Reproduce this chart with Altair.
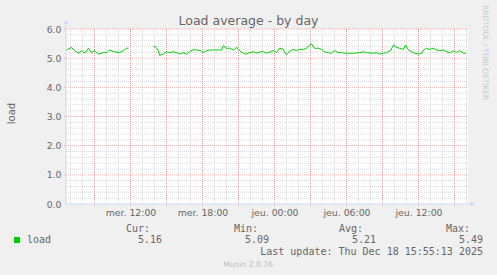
import altair as alt
import pandas as pd

# ---- data ----
times_a = ["2025-12-17 06:40", "2025-12-17 07:05", "2025-12-17 07:20", "2025-12-17 07:40",
           "2025-12-17 07:55", "2025-12-17 08:10", "2025-12-17 08:30", "2025-12-17 08:45",
           "2025-12-17 09:00", "2025-12-17 09:20", "2025-12-17 09:45", "2025-12-17 10:00",
           "2025-12-17 10:15", "2025-12-17 10:40", "2025-12-17 11:05", "2025-12-17 11:25",
           "2025-12-17 11:40", "2025-12-17 11:50"]
loads_a = [5.28, 5.37, 5.26, 5.17, 5.26, 5.17, 5.34, 5.19, 5.26, 5.14, 5.19, 5.19,
           5.28, 5.22, 5.19, 5.26, 5.34, 5.34]

times_b = ["2025-12-17 13:55", "2025-12-17 14:00", "2025-12-17 14:20", "2025-12-17 14:25",
           "2025-12-17 14:45", "2025-12-17 15:00", "2025-12-17 15:15", "2025-12-17 15:35",
           "2025-12-17 15:50", "2025-12-17 16:05", "2025-12-17 16:25", "2025-12-17 16:40",
           "2025-12-17 16:55", "2025-12-17 17:15", "2025-12-17 17:30", "2025-12-17 17:50",
           "2025-12-17 18:05", "2025-12-17 18:20", "2025-12-17 18:40", "2025-12-17 18:55",
           "2025-12-17 19:20", "2025-12-17 19:35", "2025-12-17 19:45", "2025-12-17 20:00",
           "2025-12-17 20:15", "2025-12-17 20:35", "2025-12-17 20:50", "2025-12-17 21:05",
           "2025-12-17 21:25", "2025-12-17 21:40", "2025-12-17 21:55", "2025-12-17 22:15",
           "2025-12-17 22:30", "2025-12-17 22:50", "2025-12-17 23:05", "2025-12-17 23:20",
           "2025-12-17 23:40", "2025-12-17 23:55",
           "2025-12-18 00:10", "2025-12-18 00:25", "2025-12-18 00:45", "2025-12-18 00:50",
           "2025-12-18 01:00", "2025-12-18 01:20", "2025-12-18 01:35", "2025-12-18 01:50",
           "2025-12-18 02:05", "2025-12-18 02:25", "2025-12-18 02:40", "2025-12-18 02:55",
           "2025-12-18 03:05", "2025-12-18 03:20", "2025-12-18 03:40", "2025-12-18 03:55",
           "2025-12-18 04:10", "2025-12-18 04:30", "2025-12-18 04:45", "2025-12-18 05:00",
           "2025-12-18 05:20", "2025-12-18 05:35", "2025-12-18 05:50", "2025-12-18 06:10",
           "2025-12-18 06:35", "2025-12-18 07:05", "2025-12-18 07:25", "2025-12-18 07:40",
           "2025-12-18 08:15", "2025-12-18 08:30", "2025-12-18 08:45", "2025-12-18 09:05",
           "2025-12-18 09:20", "2025-12-18 09:40", "2025-12-18 09:55", "2025-12-18 10:10",
           "2025-12-18 10:25", "2025-12-18 10:45", "2025-12-18 10:55", "2025-12-18 11:10",
           "2025-12-18 11:25", "2025-12-18 11:40", "2025-12-18 12:00", "2025-12-18 12:15",
           "2025-12-18 12:25", "2025-12-18 12:40", "2025-12-18 12:55", "2025-12-18 13:15",
           "2025-12-18 13:30", "2025-12-18 13:45", "2025-12-18 14:05", "2025-12-18 14:20",
           "2025-12-18 14:40", "2025-12-18 14:55", "2025-12-18 15:10", "2025-12-18 15:25",
           "2025-12-18 15:45", "2025-12-18 15:55"]
loads_b = [5.39, 5.42, 5.26, 5.10, 5.14, 5.22, 5.19, 5.22, 5.19, 5.14, 5.19, 5.14,
           5.22, 5.30, 5.28, 5.26, 5.19, 5.26, 5.28, 5.28, 5.28, 5.28, 5.43, 5.34,
           5.34, 5.28, 5.37, 5.26, 5.17, 5.14, 5.19, 5.22, 5.17, 5.22, 5.22, 5.17,
           5.22, 5.26,
           5.19, 5.34, 5.30, 5.19, 5.14, 5.26, 5.30, 5.26, 5.30, 5.30, 5.34, 5.45,
           5.49, 5.34, 5.34, 5.30, 5.22, 5.19, 5.17, 5.26, 5.19, 5.19, 5.17, 5.17,
           5.17, 5.19, 5.22, 5.19, 5.17, 5.19, 5.14, 5.17, 5.19, 5.26, 5.45, 5.37,
           5.34, 5.30, 5.45, 5.28, 5.22, 5.17, 5.14, 5.17, 5.28, 5.34, 5.30, 5.34,
           5.28, 5.26, 5.28, 5.22, 5.19, 5.26, 5.19, 5.26, 5.17, 5.16]

x_tick_times = [(17, 12), (17, 18), (18, 0), (18, 6), (18, 12)]  # (day of month, hour)
y_ticks = [0, 1, 2, 3, 4, 5, 6]
y_minor_steps = [1, 2, 3, 4]          # minor grid at 0.2 steps between labelled values
stat_labels = ["Cur:", "Min:", "Avg:", "Max:"]
stat_values = [5.16, 5.09, 5.21, 5.49]
series_name = "load"
title_text = "Load average - by day"
last_update = "Last update: Thu Dec 18 15:55:13 2025"
footer = "Munin 2.0.76"
watermark = "RRDTOOL / TOBI OETIKER"

# ---- tables ----
df = pd.concat([
    pd.DataFrame({"t": pd.to_datetime(times_a), "v": loads_a, "seg": "a"}),
    pd.DataFrame({"t": pd.to_datetime(times_b), "v": loads_b, "seg": "b"}),
])
hours_minor = pd.DataFrame({"t": pd.date_range("2025-12-17 07:00", "2025-12-18 16:00", freq="1h")})
hours_major = pd.DataFrame({"t": pd.date_range("2025-12-17 09:00", "2025-12-18 15:00", freq="3h")})
ymaj = pd.DataFrame({"v": y_ticks[1:]})
ymin = pd.DataFrame({"v": [b + s * 0.2 for b in y_ticks[:-1] for s in y_minor_steps]})

W, H = 402, 175
FONT = "DejaVu Sans"
MONO = "DejaVu Sans Mono"
FC = "#666666"
AXC = "#CFD6F8"

xscale = alt.Scale(domain=[alt.DateTime(year=2025, month=12, date=17, hours=6, minutes=37, seconds=30),
                           alt.DateTime(year=2025, month=12, date=18, hours=16, minutes=7, seconds=30)])
yscale = alt.Scale(domain=[0, 6], nice=False)

day_expr = "(day(datum.value) == 3 ? 'mer.' : 'jeu.') + ' ' + timeFormat(datum.value, '%H:%M')"
xaxis = alt.Axis(
    title=None, grid=False, domain=False, ticks=False, labelExpr=day_expr,
    values=[alt.DateTime(year=2025, month=12, date=d, hours=h) for d, h in x_tick_times],
    labelFont=FONT, labelFontSize=9.33,
    labelColor=FC, labelPadding=4, labelFlush=False, labelOverlap=False)
yaxis = alt.Axis(
    values=y_ticks, format=".1f", grid=False, domain=False, ticks=False,
    labelFont=FONT, labelFontSize=9.33, labelColor=FC, labelPadding=5,
    title=series_name, titleFont=FONT, titleFontSize=10, titleColor=FC,
    titleFontWeight="normal", titleAngle=270, titleX=-52, titleY=84,
    titleAlign="center", titleBaseline="alphabetic")

X = lambda: alt.X("t:T", scale=xscale, axis=xaxis)
Y = lambda: alt.Y("v:Q", scale=yscale, axis=yaxis)

one = pd.DataFrame({"k": [0]})

def txt(s, x, y, align="left", size=10, font=MONO, color=FC, angle=0):
    return alt.Chart(pd.DataFrame({"s": [s]})).mark_text(
        align=align, baseline="alphabetic", fontSize=size, font=font, color=color, angle=angle
    ).encode(x=alt.value(x), y=alt.value(y), text="s:N")

GRID = dict(color="#8f8f8f", opacity=0.35, strokeDash=[1, 1])
MGRID = dict(color="#de4f4f", opacity=0.42, strokeDash=[1, 1])

vminor = alt.Chart(hours_minor).mark_rule(**GRID).encode(x=X(), y=alt.value(0), y2=alt.value(H))
hminor = alt.Chart(ymin).mark_rule(**GRID).encode(y=Y(), x=alt.value(0), x2=alt.value(W))
vmajor = alt.Chart(hours_major).mark_rule(**MGRID).encode(x=X(), y=alt.value(0), y2=alt.value(H + 2))
hmajor = alt.Chart(ymaj).mark_rule(**MGRID).encode(y=Y(), x=alt.value(-2), x2=alt.value(W))

yaxis_line = alt.Chart(one).mark_rule(color=AXC).encode(x=alt.value(0), y=alt.value(-6), y2=alt.value(H))
xaxis_line = alt.Chart(one).mark_rule(color=AXC).encode(y=alt.value(H), x=alt.value(0), x2=alt.value(W + 4))
arrow_up = alt.Chart(one).mark_point(shape="triangle-up", filled=True, color=AXC, size=22, opacity=1).encode(
    x=alt.value(0), y=alt.value(-7))
arrow_right = alt.Chart(one).mark_point(shape="triangle-right", filled=True, color=AXC, size=22, opacity=1).encode(
    x=alt.value(W + 5), y=alt.value(H))

line = alt.Chart(df).mark_line(color="#00CC00", strokeWidth=1).encode(
    x=X(), y=Y(), detail="seg:N")

OX, OY = 66, 29
texts = [
    txt(title_text, 248.5 - OX, 25 - OY, align="center", size=12.5, font=FONT),
    txt(watermark, 483 - OX, 5 - OY, size=7.4, font=FONT, color="#C8C8C8", angle=90),
    txt(series_name, 27 - OX, 243 - OY),
    txt(last_update, 483 - OX, 255 - OY, align="right"),
    txt(footer, 248 - OX, 267 - OY, align="center", size=7.6, font=FONT, color="#BBBBBB"),
]
lab_right = [150, 258, 363, 470]
val_right = [162, 269, 376, 483]
for lab, val, lr, vr in zip(stat_labels, stat_values, lab_right, val_right):
    texts.append(txt(lab, lr - OX, 232 - OY, align="right"))
    texts.append(txt(f"{val:.2f}", vr - OX, 243 - OY, align="right"))

swatch = alt.Chart(one).mark_rect(color="#00CC00").encode(
    x=alt.value(14 - OX), x2=alt.value(20 - OX), y=alt.value(237 - OY), y2=alt.value(243 - OY))

chart = alt.layer(
    vminor, hminor, vmajor, hmajor, yaxis_line, xaxis_line, arrow_up, arrow_right, line, swatch, *texts
).properties(
    width=W, height=H, autosize="none", background="#F0F0F0",
    padding={"left": OX, "top": OY, "right": 497 - OX - W, "bottom": 275 - OY - H},
).configure_view(fill="white", stroke=None)

chart.save("out.html", embed_options={"renderer": "svg", "actions": False})
